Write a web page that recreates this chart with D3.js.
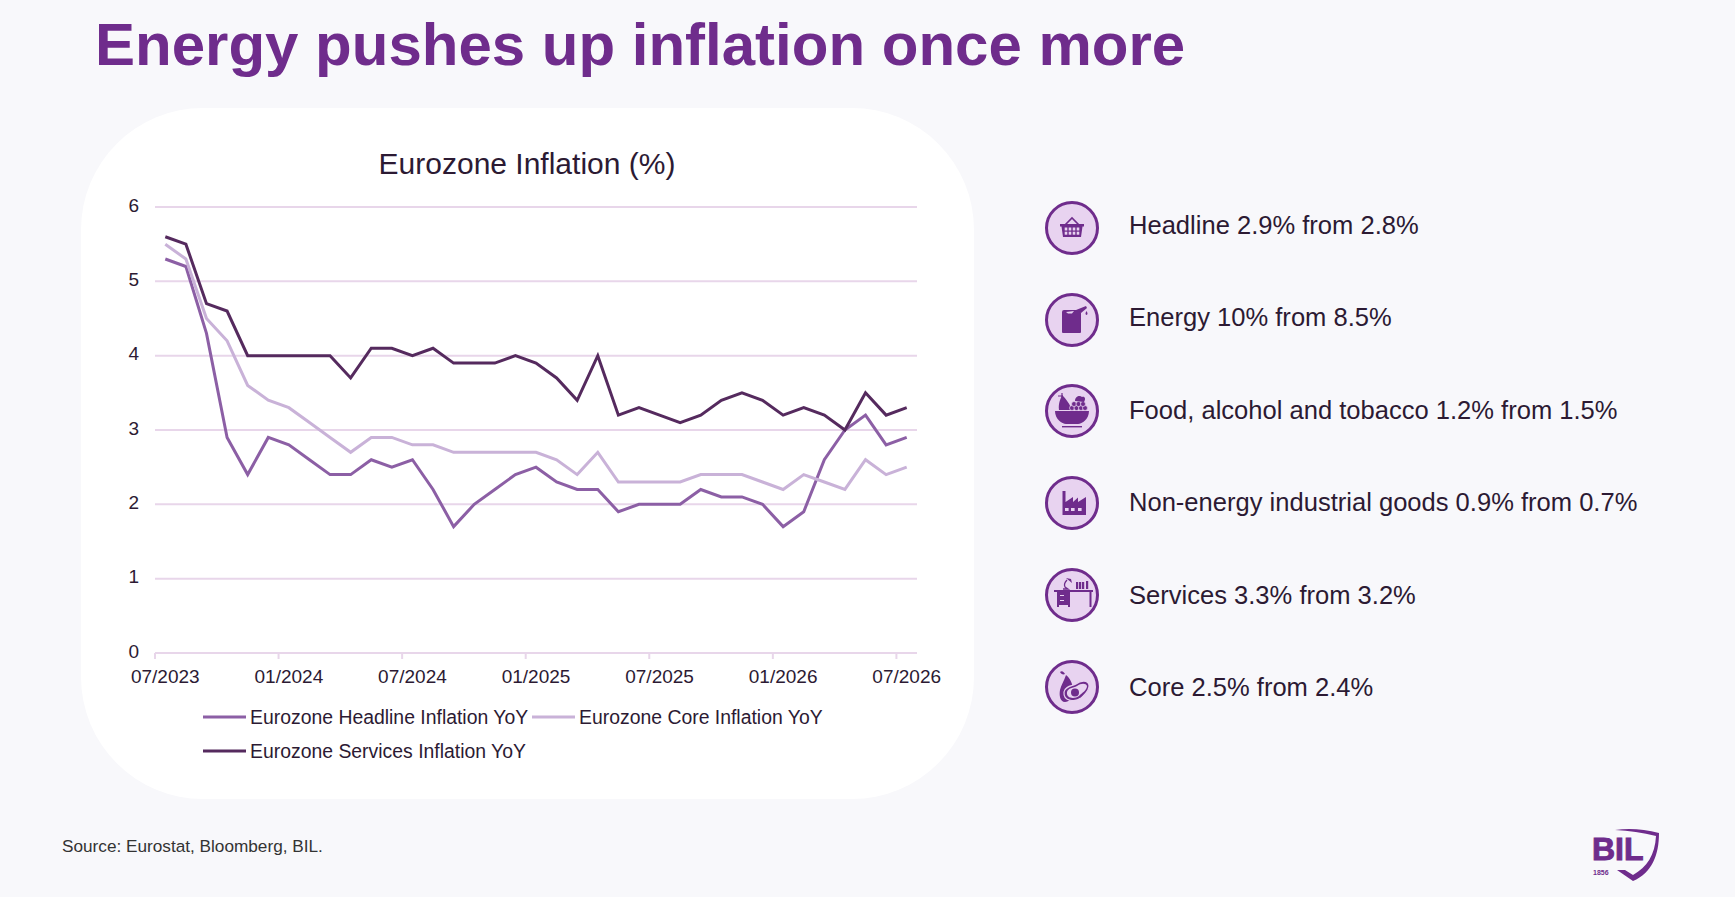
<!DOCTYPE html>
<html>
<head>
<meta charset="utf-8">
<script src="https://cdn.jsdelivr.net/npm/d3@7"></script>
<style>
  html, body { margin: 0; padding: 0; background: #f8f8fb; }
  svg { display: block; }
  text { font-family: "Liberation Sans", Arial, sans-serif; fill: #2c1a33; }
  .axis path { display: none; }
  .axis text { font-size: 19px; fill: #2c1a33; }
</style>
</head>
<body>
<div class="chart"></div>
<script>
const months = ["07/2023","08/2023","09/2023","10/2023","11/2023","12/2023",
  "01/2024","02/2024","03/2024","04/2024","05/2024","06/2024",
  "07/2024","08/2024","09/2024","10/2024","11/2024","12/2024",
  "01/2025","02/2025","03/2025","04/2025","05/2025","06/2025",
  "07/2025","08/2025","09/2025","10/2025","11/2025","12/2025",
  "01/2026","02/2026","03/2026","04/2026","05/2026","06/2026","07/2026"];
const headline = [5.3,5.2,4.3,2.9,2.4,2.9,2.8,2.6,2.4,2.4,2.6,2.5,2.6,2.2,1.7,2.0,2.2,2.4,2.5,2.3,2.2,2.2,1.9,2.0,2.0,2.0,2.2,2.1,2.1,2.0,1.7,1.9,2.6,3.0,3.2,2.8,2.9];
const core = [5.5,5.3,4.5,4.2,3.6,3.4,3.3,3.1,2.9,2.7,2.9,2.9,2.8,2.8,2.7,2.7,2.7,2.7,2.7,2.6,2.4,2.7,2.3,2.3,2.3,2.3,2.4,2.4,2.4,2.3,2.2,2.4,2.3,2.2,2.6,2.4,2.5];
const services = [5.6,5.5,4.7,4.6,4.0,4.0,4.0,4.0,4.0,3.7,4.1,4.1,4.0,4.1,3.9,3.9,3.9,4.0,3.9,3.7,3.4,4.0,3.2,3.3,3.2,3.1,3.2,3.4,3.5,3.4,3.2,3.3,3.2,3.0,3.5,3.2,3.3];
const tickLabels = ["07/2023","01/2024","07/2024","01/2025","07/2025","01/2026","07/2026"];
const seriesNames = ["Eurozone Headline Inflation YoY","Eurozone Core Inflation YoY","Eurozone Services Inflation YoY"];
const seriesColors = ["#8c5fa5","#c9b2d8","#552a5e"];
const bullets = ["Headline 2.9% from 2.8%","Energy 10% from 8.5%","Food, alcohol and tobacco 1.2% from 1.5%",
  "Non-energy industrial goods 0.9% from 0.7%","Services 3.3% from 3.2%","Core 2.5% from 2.4%"];

const purple = "#6f2c8c";
const svg = d3.select(".chart").append("svg").attr("width", 1735).attr("height", 897);

svg.append("rect").attr("width", 1735).attr("height", 897).attr("fill", "#f8f8fb");

svg.append("text").attr("x", 95).attr("y", 65)
  .attr("font-size", 60).attr("font-weight", "bold").style("fill", purple)
  .text("Energy pushes up inflation once more");

// white card
svg.append("rect").attr("x", 81).attr("y", 108).attr("width", 893).attr("height", 691)
  .attr("rx", 122).attr("ry", 122).attr("fill", "#fff");

svg.append("text").attr("x", 527).attr("y", 174).attr("text-anchor", "middle")
  .attr("font-size", 30).text("Eurozone Inflation (%)");

const margin = {top: 207, right: 818, bottom: 244, left: 155};
const width = 1735 - margin.left - margin.right,
      height = 897 - margin.top - margin.bottom;
const g = svg.append("g").attr("transform", `translate(${margin.left},${margin.top})`);

const xScale = d3.scaleBand().domain(months).range([0, width]);
const yScale = d3.scaleLinear().domain([0, 6]).range([height, 0]);

const yAxis = d3.axisLeft(yScale).ticks(6).tickSize(0).tickPadding(16).tickFormat(d3.format("d"));
const yG = g.append("g").attr("class", "axis").call(yAxis);
yG.selectAll("text").attr("dy", "0.22em");
g.append("g").selectAll("line").data(yScale.ticks(6)).enter().append("line")
  .attr("x1", 0).attr("x2", width)
  .attr("y1", d => yScale(d)).attr("y2", d => yScale(d))
  .attr("stroke", "#e8d6ea").attr("stroke-width", 2);

const xAxis = d3.axisBottom(xScale).tickValues(tickLabels).tickSize(0).tickPadding(17);
const xG = g.append("g").attr("class", "axis").attr("transform", `translate(0,${height})`).call(xAxis);
// tick marks sit on the category edge, labels stay centred
xG.selectAll(".tick").append("line")
  .attr("x1", -xScale.bandwidth() / 2).attr("x2", -xScale.bandwidth() / 2)
  .attr("y1", 0).attr("y2", 6).attr("stroke", "#e8d6ea").attr("stroke-width", 2);

const line = d3.line().x((d, i) => xScale(months[i]) + xScale.bandwidth() / 2).y(d => yScale(d));
[headline, core, services].forEach((s, i) => {
  g.append("path").datum(s).attr("d", line).attr("fill", "none")
    .attr("stroke", seriesColors[i]).attr("stroke-width", 3).attr("stroke-linejoin", "miter");
});

// legend
const legendPos = [[203, 717], [532, 717], [203, 751]];
seriesNames.forEach((name, i) => {
  const [lx, ly] = legendPos[i];
  svg.append("line").attr("x1", lx).attr("x2", lx + 43).attr("y1", ly).attr("y2", ly)
    .attr("stroke", seriesColors[i]).attr("stroke-width", 3);
  svg.append("text").attr("x", lx + 47).attr("y", ly + 7).attr("font-size", 19.4).text(name);
});

// right hand list
const rowY = [228, 320, 411, 503, 595, 687];
const textY = [234, 326, 419, 511, 604, 696];
const tint = "#e8d3f0";
const icons = [
  // basket
  g => {
    g.append("path").attr("d", "M-7,-3 L0,-10 L7,-3").attr("fill", "none").attr("stroke", purple).attr("stroke-width", 1.6);
    g.append("path").attr("d", "M-12,-4 H12 V-1.5 H10.5 L9,9 H-9 L-10.5,-1.5 H-12 Z").attr("fill", purple);
    [-6, -2, 2, 6].forEach(x => g.append("rect").attr("x", x - 1.3).attr("y", -0.5).attr("width", 2.6).attr("height", 3).attr("fill", tint));
    [-6, -2, 2, 6].forEach(x => g.append("rect").attr("x", x - 1.3).attr("y", 3.7).attr("width", 2.6).attr("height", 3).attr("fill", tint));
  },
  // jerry can
  g => {
    g.append("path").attr("d", "M-10,-8 Q-10,-10 -8,-10 L7,-10 Q9,-9 9,-7 V12 Q9,13 8,13 H-9 Q-10,13 -10,12 Z").attr("fill", purple);
    g.append("path").attr("d", "M-6,-8 L2,-9 L0,-6.5 L-4,-6.5 Z").attr("fill", tint);
    g.append("path").attr("d", "M4,-10 L14,-14 L15,-12 L9,-7 Z").attr("fill", purple);
    g.append("path").attr("d", "M14.5,-9 Q16.5,-6 14.5,-5 Q12.5,-6 14.5,-9 Z").attr("fill", purple);
  },
  // fruit bowl
  g => {
    g.append("path").attr("d", "M-17,0 H17 C17,8 10,13 6,13 H-6 C-10,13 -17,8 -17,0 Z").attr("fill", purple);
    g.append("rect").attr("x", -10).attr("y", 15).attr("width", 20).attr("height", 1.4).attr("fill", purple);
    g.append("path").attr("d", "M-13,-1 C-14,-8 -11,-13 -10,-16 C-6,-12 -1,-6 -1,-1 Z").attr("fill", purple);
    g.append("path").attr("d", "M-14,-15 L-9,-15 M-10,-18 L-10,-14").attr("stroke", purple).attr("stroke-width", 1.2);
    [[0, -3], [4.5, -3], [9, -3], [13, -3], [2, -7], [6.5, -7], [11, -7]].forEach(c =>
      g.append("circle").attr("cx", c[0]).attr("cy", c[1]).attr("r", 2.5).attr("fill", purple).attr("stroke", tint).attr("stroke-width", 0.7));
    g.append("path").attr("d", "M3,-10 C3,-15 8,-16 10,-14 C13,-15 14,-12 12,-9 Z").attr("fill", purple);
  },
  // factory
  g => {
    g.append("path").attr("d", "M-9.5,12 V-12 H-6.5 V-1 L1,-6 V-1 L6,-5.5 V-1 L14,-6 V12 Z").attr("fill", purple);
    [-6, 0, 7].forEach(x => g.append("rect").attr("x", x - 1).attr("y", 5).attr("width", 3.6).attr("height", 3).attr("fill", tint));
  },
  // desk
  g => {
    g.append("rect").attr("x", -18).attr("y", -5).attr("width", 39).attr("height", 2).attr("fill", purple);
    g.append("rect").attr("x", 17.5).attr("y", -3).attr("width", 2).attr("height", 15).attr("fill", purple);
    g.append("path").attr("d", "M-15,-3 H-2 V12 H-4 V10 H-13 V12 H-15 Z").attr("fill", purple);
    g.append("rect").attr("x", -12).attr("y", 0).attr("width", 4).attr("height", 1).attr("fill", tint);
    g.append("rect").attr("x", -12).attr("y", 5).attr("width", 4).attr("height", 1).attr("fill", tint);
    g.append("path").attr("d", "M-9,-6 H-4 L-7,-8 C-8,-10 -7,-13 -5,-15").attr("fill", "none").attr("stroke", purple).attr("stroke-width", 1.3);
    g.append("path").attr("d", "M-6,-17 L-1,-16 L0,-12 Z").attr("fill", purple);
    [4, 7, 10, 14].forEach((x, i) => g.append("rect").attr("x", x).attr("y", i === 3 ? -14 : -13).attr("width", 2.2).attr("height", i === 3 ? 8 : 7).attr("fill", purple));
  },
  // avocado and pear
  g => {
    g.append("path").attr("d", "M-6,-12 C-2,-9 1,-3 1,3 C1,11 -3,15 -7,15 C-12,15 -13,8 -12,3 C-11,-2 -8,-6 -6,-12 Z").attr("fill", purple);
    g.append("path").attr("d", "M-12,-15 C-10,-17 -8,-15 -7,-13 C-9,-12 -11,-13 -12,-15 Z").attr("fill", purple);
    g.append("path").attr("d", "M-8,5 C-7,-1 0,-1 4,-3 C9,-7 16,-7 17,-2 C18,4 12,8 9,11 C4,15 -9,15 -8,5 Z")
      .attr("fill", purple).attr("stroke", tint).attr("stroke-width", 1.2);
    g.append("path").attr("d", "M-5,5 C-4,1 1,1 5,-1 C9,-4 14,-4 15,-1 C15,3 10,6 7,9 C3,12 -6,12 -5,5 Z").attr("fill", tint);
    g.append("circle").attr("cx", 3).attr("cy", 5.5).attr("r", 4).attr("fill", purple);
  }
];
bullets.forEach((t, i) => {
  const row = svg.append("g").attr("transform", `translate(1072,${rowY[i]})`);
  row.append("circle").attr("r", 25.5).attr("fill", tint).attr("stroke", purple).attr("stroke-width", 3);
  icons[i](row.append("g"));
  svg.append("text").attr("x", 1129).attr("y", textY[i]).attr("font-size", 25.55).text(t);
});

svg.append("text").attr("x", 62).attr("y", 852).attr("font-size", 17.2).style("fill", "#333").text("Source: Eurostat, Bloomberg, BIL.");

// BIL logo
const logo = svg.append("g").attr("transform", "translate(1592,810)");
logo.append("text").attr("x", 0).attr("y", 50).attr("font-size", 32).attr("font-weight", "bold")
  .attr("stroke", purple).attr("stroke-width", 1).style("fill", purple).text("BIL");
logo.append("text").attr("x", 1).attr("y", 65).attr("font-size", 7).attr("font-weight", "bold")
  .style("fill", purple).text("1856");
logo.append("path").attr("d", "M23,20 Q44,17 67,23 C67,45 60,63 41,71 L25,60 H33 L41,65 C55,57 63,45 64,26 Q44,21 23,20 Z").attr("fill", purple);
</script>
</body>
</html>
